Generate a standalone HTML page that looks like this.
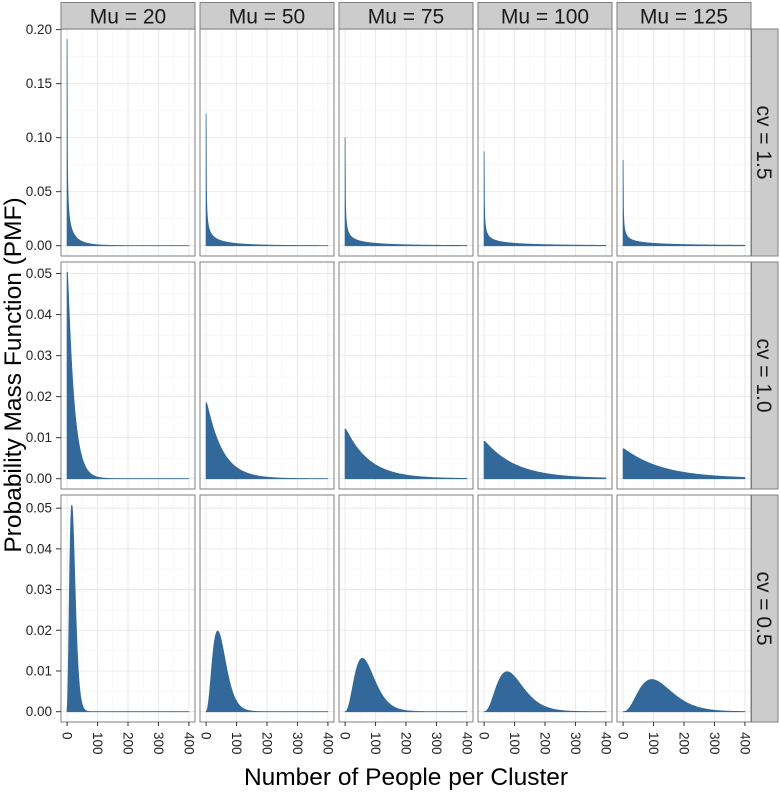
<!DOCTYPE html>
<html><head><meta charset="utf-8"><style>
html,body{margin:0;padding:0;background:#fff;}
svg{display:block;font-family:"Liberation Sans",Arial,sans-serif;}
</style></head><body>
<svg id="chart" width="780" height="793" viewBox="0 0 780 793"></svg>
<script>
// ---- data ----
const mus = [20, 50, 75, 100, 125];
const cvs = [1.5, 1.0, 0.5];
const peaks = [
  [0.191, 0.122, 0.100, 0.087, 0.079],
  [0.0503, 0.0185, 0.0121, 0.0091, 0.0073],
  [0.0507, 0.0198, 0.0131, 0.0098, 0.0079]
];
const rowYMax = [0.191, 0.0503, 0.0507];
const rowTicks = [
  [0, 0.05, 0.10, 0.15, 0.20],
  [0, 0.01, 0.02, 0.03, 0.04, 0.05],
  [0, 0.01, 0.02, 0.03, 0.04, 0.05]
];
const xTicks = [0, 100, 200, 300, 400];
const xMinor = [50, 150, 250, 350];
const xMaxData = 400;

// ---- layout ----
const colLeft = [61, 200, 339, 478, 617];
const panelW = 134;
const rowTop = [29, 262, 495];
const panelH = 227;
const NS = "http://www.w3.org/2000/svg";
const svg = document.getElementById('chart');
function el(tag, attrs, parent) {
  const e = document.createElementNS(NS, tag);
  for (const k in attrs) e.setAttribute(k, attrs[k]);
  (parent || svg).appendChild(e);
  return e;
}
function lgamma(z) {
  const g = 7, c = [0.99999999999980993, 676.5203681218851, -1259.1392167224028, 771.32342877765313,
    -176.61502916214059, 12.507343278686905, -0.13857109526572012, 9.9843695780195716e-6, 1.5056327351493116e-7];
  if (z < 0.5) return Math.log(Math.PI / Math.sin(Math.PI * z)) - lgamma(1 - z);
  z -= 1; let x = c[0];
  for (let i = 1; i < g + 2; i++) x += c[i] / (z + i);
  const t = z + g + 0.5;
  return 0.5 * Math.log(2 * Math.PI) + (z + 0.5) * Math.log(t) - t + Math.log(x);
}
function nbPmf(x, mu, cv) {
  const v = cv * cv * mu * mu;
  const r = mu * mu / (v - mu);
  return Math.exp(lgamma(x + r) - lgamma(r) - lgamma(x + 1) + r * Math.log(r / (r + mu)) + x * Math.log(mu / (r + mu)));
}

const xLo = -0.05 * xMaxData, xHi = xMaxData * 1.05;
function xScale(c, v) { return colLeft[c] + (v - xLo) / (xHi - xLo) * panelW; }

for (let r = 0; r < cvs.length; r++) {
  const yLo = -0.05 * rowYMax[r], yHi = rowYMax[r] * 1.05;
  const yScale = v => rowTop[r] + panelH - (v - yLo) / (yHi - yLo) * panelH;
  const ticks = rowTicks[r];
  for (let c = 0; c < mus.length; c++) {
    const g = el('g', {});
    
    
    el('rect', {x: colLeft[c], y: rowTop[r], width: panelW, height: panelH, fill: '#fff'}, g);
    for (const t of xMinor) el('line', {x1: xScale(c, t), x2: xScale(c, t), y1: rowTop[r], y2: rowTop[r] + panelH, stroke: '#f5f5f5', 'stroke-width': 0.6}, g);
    for (let i = 0; i < ticks.length - 1; i++) {
      const m = (ticks[i] + ticks[i + 1]) / 2;
      el('line', {x1: colLeft[c], x2: colLeft[c] + panelW, y1: yScale(m), y2: yScale(m), stroke: '#f5f5f5', 'stroke-width': 0.6}, g);
    }
    for (const t of xTicks) el('line', {x1: xScale(c, t), x2: xScale(c, t), y1: rowTop[r], y2: rowTop[r] + panelH, stroke: '#e5e5e5', 'stroke-width': 0.8}, g);
    for (const t of ticks) {
      const y = yScale(t);
      if (y >= rowTop[r] && y <= rowTop[r] + panelH) el('line', {x1: colLeft[c], x2: colLeft[c] + panelW, y1: y, y2: y, stroke: '#e5e5e5', 'stroke-width': 0.8}, g);
    }
    let raw = [], mx = 0;
    for (let x = 0; x <= xMaxData; x++) { const p = nbPmf(x, mus[c], cvs[r]); raw.push(p); if (p > mx) mx = p; }
    const k = peaks[r][c] / mx;
    let pts = [xScale(c, 0) + ',' + yScale(0)];
    for (let x = 0; x <= xMaxData; x++) pts.push(xScale(c, x).toFixed(2) + ',' + yScale(raw[x] * k).toFixed(2));
    pts.push(xScale(c, xMaxData) + ',' + yScale(0));
    const area = el('polygon', {points: pts.join(' '), fill: '#32689a', stroke: '#32689a', 'stroke-width': 0.8, 'stroke-linejoin': 'round'}, g);
    
    
    el('rect', {x: colLeft[c], y: rowTop[r], width: panelW, height: panelH, fill: 'none', stroke: '#7f7f7f', 'stroke-width': 1}, g);
  }
  const ya = el('g', {});
  
  
  for (const t of ticks) {
    const y = yScale(t);
    el('line', {x1: 56, x2: 61, y1: y, y2: y, stroke: '#333', 'stroke-width': 1}, ya);
    const tx = el('text', {x: 52, y: y + 4.5, 'text-anchor': 'end', 'font-size': 13.5, fill: '#222'}, ya);
    tx.textContent = t.toFixed(2);
  }
  const sg = el('g', {});
  
  
  el('rect', {x: 751.5, y: rowTop[r], width: 26.5, height: panelH, fill: '#cccccc', stroke: '#7f7f7f', 'stroke-width': 1}, sg);
  const cy = rowTop[r] + panelH / 2;
  const st = el('text', {x: 0, y: 0, transform: 'translate(757,' + cy + ') rotate(90)', 'text-anchor': 'middle', 'font-size': 21, fill: '#1a1a1a'}, sg);
  st.textContent = 'cv = ' + cvs[r].toFixed(1);
}
for (let c = 0; c < mus.length; c++) {
  const sg = el('g', {});
  
  
  el('rect', {x: colLeft[c], y: 2.5, width: panelW, height: 26.5, fill: '#cccccc', stroke: '#7f7f7f', 'stroke-width': 1}, sg);
  const st = el('text', {x: colLeft[c] + panelW / 2, y: 23.5, 'text-anchor': 'middle', 'font-size': 21, fill: '#1a1a1a'}, sg);
  st.textContent = 'Mu = ' + mus[c];
  const xa = el('g', {});
  
  
  const by = rowTop[2] + panelH;
  for (const t of xTicks) {
    const x = xScale(c, t);
    el('line', {x1: x, x2: x, y1: by, y2: by + 4, stroke: '#333', 'stroke-width': 1}, xa);
    const tx = el('text', {x: 0, y: 0, transform: 'translate(' + (x - 4.5) + ',' + (by + 10) + ') rotate(90)', 'text-anchor': 'start', 'font-size': 13.5, fill: '#222'}, xa);
    tx.textContent = t;
  }
}
const xt = el('text', {x: 406, y: 785, 'text-anchor': 'middle', 'font-size': 24.5, fill: '#000'});


xt.textContent = 'Number of People per Cluster';
const yt = el('text', {x: 0, y: 0, transform: 'translate(21,375) rotate(-90)', 'text-anchor': 'middle', 'font-size': 24.5, fill: '#000'});


yt.textContent = 'Probability Mass Function (PMF)';
</script>
</body></html>
